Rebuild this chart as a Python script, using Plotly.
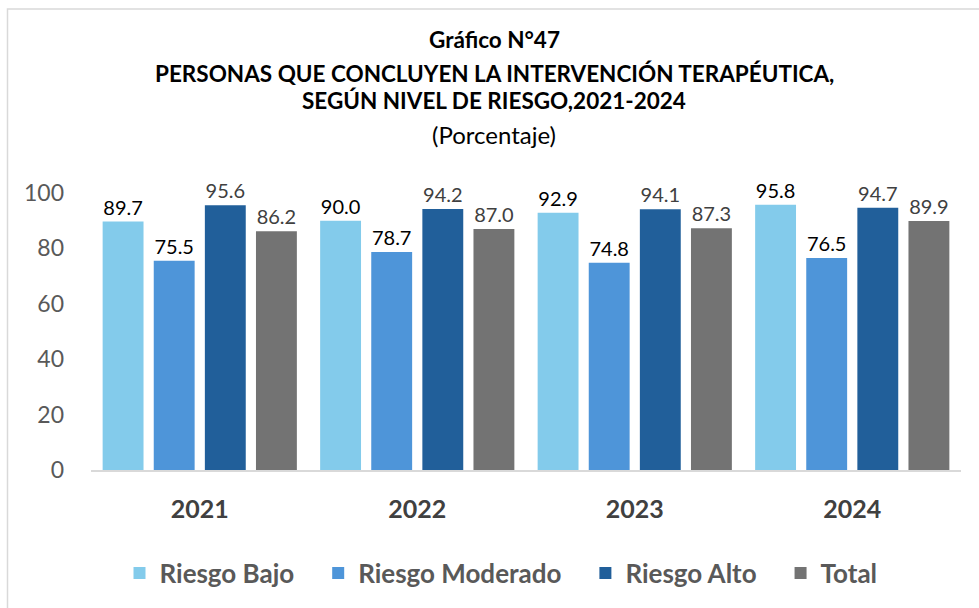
import plotly.graph_objects as go

years = ["2021", "2022", "2023", "2024"]
riesgo_bajo = [89.7, 90.0, 92.9, 95.8]
riesgo_moderado = [75.5, 78.7, 74.8, 76.5]
riesgo_alto = [95.6, 94.2, 94.1, 94.7]
total = [86.2, 87.0, 87.3, 89.9]

series = [
    ("Riesgo Bajo", riesgo_bajo, "#83CBEB", "#000000"),
    ("Riesgo Moderado", riesgo_moderado, "#4E95D9", "#000000"),
    ("Riesgo Alto", riesgo_alto, "#215F9A", "#404040"),
    ("Total", total, "#737373", "#404040"),
]

W, H = 979, 608
L, R, T, B = 91, 18, 193, 138
pw, ph = W - L - R, H - T - B


def px_x(x):
    return (x - L) / pw


def px_y(y):
    return (H - B - y) / ph


# a little padding after each legend label to widen the gaps between entries
PAD = "\u00a0\u00a0\u00a0"

fig = go.Figure()
for i, (name, vals, color, lblcolor) in enumerate(series):
    fig.add_trace(go.Bar(
        name=name + (PAD if i < len(series) - 1 else ""), x=years, y=vals,
        marker=dict(color=color, line=dict(width=0)),
        text=[f"{v:.1f}" for v in vals],
        textposition="outside",
        textfont=dict(family="Lato", size=20, color=lblcolor),
        cliponaxis=False,
    ))

title_lines = [
    ("<b>Gráfico N°47</b>", 40, 22.5),
    ("<b>PERSONAS QUE CONCLUYEN LA INTERVENCIÓN TERAPÉUTICA,</b>", 73, 22.5),
    ("<b>SEGÚN NIVEL DE RIESGO,2021-2024</b>", 101, 22.5),
    ("(Porcentaje)", 134, 24),
]
annotations = [
    dict(text=t, x=px_x(494), y=px_y(yy), xref="paper", yref="paper",
         xanchor="center", yanchor="middle", showarrow=False,
         font=dict(family="Lato", size=sz, color="#000000"))
    for t, yy, sz in title_lines
]

fig.update_layout(
    width=W, height=H,
    margin=dict(l=L, r=R, t=T, b=B, pad=0),
    paper_bgcolor="white", plot_bgcolor="white",
    barmode="group", bargap=0.06, bargroupgap=0.2,
    showlegend=True,
    legend=dict(orientation="h", x=px_x(501), xanchor="center",
                y=px_y(573), yanchor="middle",
                font=dict(family="Lato", size=26, color="#595959", weight="bold"),
                itemclick=False),
    annotations=annotations,
    shapes=[dict(type="rect", xref="paper", yref="paper",
                 x0=px_x(7.5), x1=px_x(990), y0=px_y(9), y1=px_y(620),
                 line=dict(color="#D9D9D9", width=1.5), fillcolor="rgba(0,0,0,0)",
                 layer="below")],
    xaxis=dict(showline=True, linecolor="#D9D9D9", linewidth=1.5,
               ticks="", showgrid=False, ticklabelstandoff=16,
               tickfont=dict(family="Lato", size=25, color="#404040", weight="bold")),
    yaxis=dict(range=[0, 100], dtick=20, showgrid=False, zeroline=False,
               showline=False, ticks="", ticklabelstandoff=26,
               tickfont=dict(family="Lato", size=23, color="#595959")),
    font=dict(family="Lato"),
)

fig.write_html("out.html")
